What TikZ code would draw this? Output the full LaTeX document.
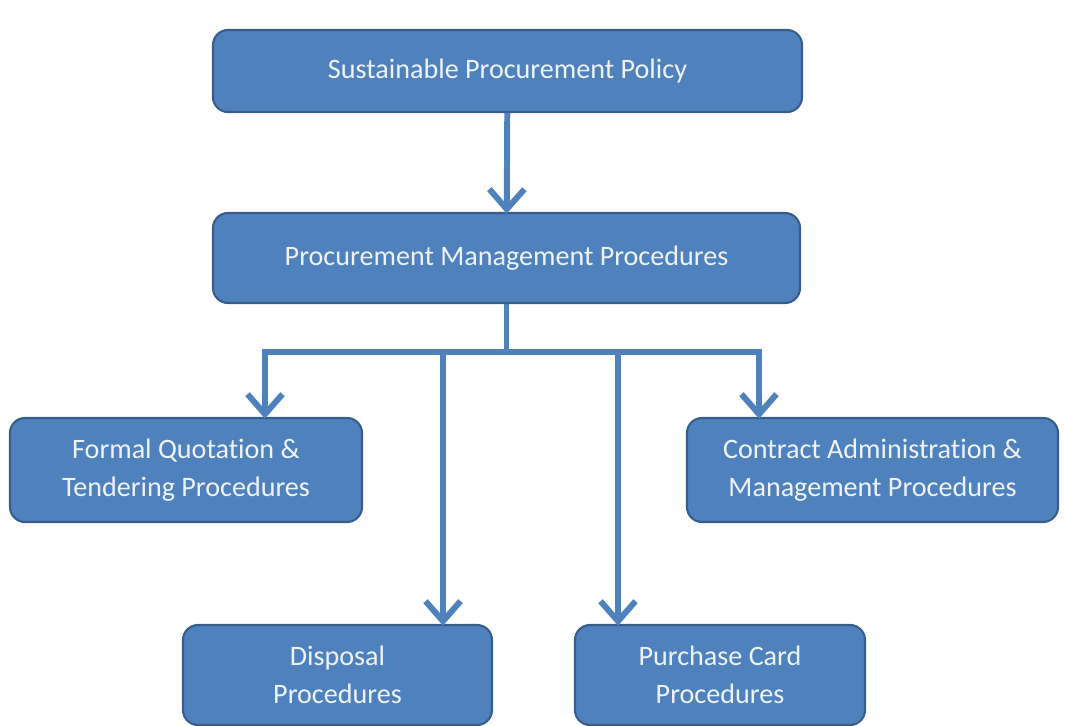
\documentclass[tikz,border=0pt]{standalone}
\usepackage{fontspec}
\setmainfont{Carlito}[Ligatures=NoCommon]
\usetikzlibrary{arrows.meta}
\definecolor{boxblue}{HTML}{4F81BD}
\definecolor{edgeblue}{HTML}{385D8A}
\definecolor{textwhite}{HTML}{EEF3FB}
\tikzset{
  procbox/.style={draw=edgeblue, line width=1.2pt, fill=boxblue, rounded corners=0.3cm,
    text=textwhite, align=center, inner sep=0pt,
    font=\fontsize{16}{21.5}\selectfont},
  link/.style={draw=boxblue, line width=3.4pt},
  arr/.style={link, -{Straight Barb[length=4mm,width=7mm]}, shorten >=-1pt}
}
\begin{document}
\begin{tikzpicture}
\useasboundingbox (0,0) rectangle (21.3,-14.52);

\node[procbox, minimum width=11.78cm, minimum height=1.64cm] (policy) at (10.15,-1.42) {Sustainable Procurement Policy};
\node[procbox, minimum width=11.74cm, minimum height=1.8cm] (mgmt) at (10.13,-5.16) {Procurement Management Procedures};

\node[procbox, minimum width=7.04cm, minimum height=2.08cm] (formal) at (3.72,-9.4) {Formal Quotation \&\\Tendering Procedures};
\node[procbox, minimum width=7.42cm, minimum height=2.08cm] (contract) at (17.45,-9.4) {Contract Administration \&\\Management Procedures};
\node[procbox, minimum width=6.18cm, minimum height=2.0cm] (disposal) at (6.75,-13.5) {Disposal\\Procedures};
\node[procbox, minimum width=5.8cm, minimum height=2.0cm] (pcard) at (14.4,-13.5) {Purchase Card\\Procedures};

\coordinate (hub) at (10.13,-7.04);
\coordinate (fq) at (5.3,-7.04);
\coordinate (ca) at (15.18,-7.04);
\coordinate (dp) at (8.86,-7.04);
\coordinate (pc) at (12.36,-7.04);

\draw[arr] (policy) -- (mgmt);
\draw[link] (mgmt) -- (hub);
\draw[link, line cap=rect] (fq) -- (ca);
\draw[arr] (fq) -- (fq |- formal.north);
\draw[arr] (ca) -- (ca |- contract.north);
\draw[arr] (dp) -- (dp |- disposal.north);
\draw[arr] (pc) -- (pc |- pcard.north);
\end{tikzpicture}
\end{document}
